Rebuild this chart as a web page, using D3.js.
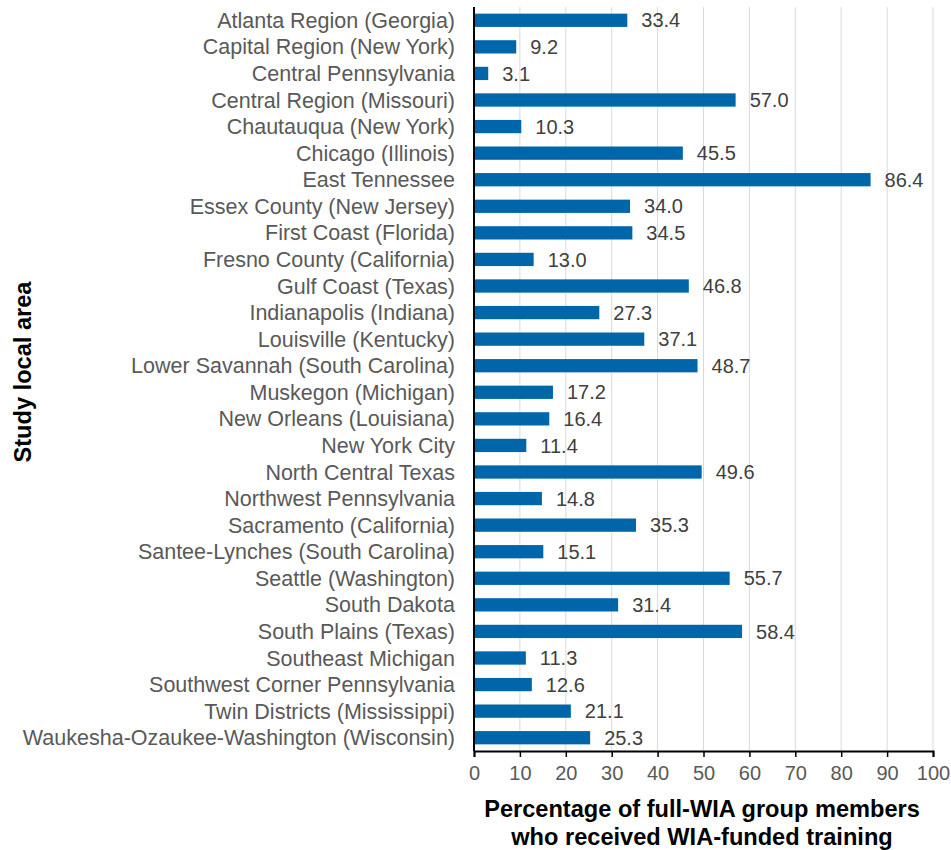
<!DOCTYPE html>
<html><head><meta charset="utf-8">
<script src="https://cdn.jsdelivr.net/npm/d3@7"></script>
<style>body{margin:0;background:#fff;font-family:"Liberation Sans",Arial,sans-serif;}</style>
</head><body><svg id="c" width="951" height="850"></svg>
<script>
const categories = ["Atlanta Region (Georgia)","Capital Region (New York)","Central Pennsylvania","Central Region (Missouri)","Chautauqua (New York)","Chicago (Illinois)","East Tennessee","Essex County (New Jersey)","First Coast (Florida)","Fresno County (California)","Gulf Coast (Texas)","Indianapolis (Indiana)","Louisville (Kentucky)","Lower Savannah (South Carolina)","Muskegon (Michigan)","New Orleans (Louisiana)","New York City","North Central Texas","Northwest Pennsylvania","Sacramento (California)","Santee-Lynches (South Carolina)","Seattle (Washington)","South Dakota","South Plains (Texas)","Southeast Michigan","Southwest Corner Pennsylvania","Twin Districts (Mississippi)","Waukesha-Ozaukee-Washington (Wisconsin)"];
const values = [33.4,9.2,3.1,57.0,10.3,45.5,86.4,34.0,34.5,13.0,46.8,27.3,37.1,48.7,17.2,16.4,11.4,49.6,14.8,35.3,15.1,55.7,31.4,58.4,11.3,12.6,21.1,25.3];
const xTicks = [0,10,20,30,40,50,60,70,80,90,100];
const xTitle = ["Percentage of full-WIA group members","who received WIA-funded training"];
const yTitle = "Study local area";

const svg = d3.select("#c");
const L = 474, R = 933, T = 7, B = 751;
const x = d3.scaleLinear().domain([0,100]).range([L,R]);
const y = d3.scaleBand().domain(categories).range([T,B]).paddingInner(0.5).paddingOuter(0.25);
const FF = "Liberation Sans, Arial, sans-serif";

// gridlines
svg.append("g").selectAll("line").data(xTicks.slice(1)).join("line")
  .attr("x1",d=>x(d)).attr("x2",d=>x(d)).attr("y1",T).attr("y2",B)
  .attr("stroke","#d9d9d9").attr("stroke-width",1);

// bars
svg.append("g").selectAll("rect").data(values).join("rect")
  .attr("x",x(0)).attr("y",(d,i)=>y(categories[i]))
  .attr("width",d=>x(d)-x(0)).attr("height",y.bandwidth())
  .attr("fill","#0066AA");

// value labels
svg.append("g").selectAll("text").data(values).join("text")
  .attr("x",d=>x(d)+14).attr("y",(d,i)=>y(categories[i])+y.bandwidth()/2)
  .attr("dy","0.36em").attr("font-size",20).attr("fill","#404040")
  .text(d=>d.toFixed(1));

// x axis
const xa = svg.append("g").attr("transform",`translate(0,${B})`)
  .call(d3.axisBottom(x).tickValues(xTicks).tickSize(6).tickPadding(9).tickFormat(d3.format("d")));
xa.select(".domain").attr("stroke","#000").attr("stroke-width",2);
xa.selectAll(".tick line").attr("stroke","#000").attr("stroke-width",1.5);
xa.selectAll(".tick text").attr("font-size",20).attr("fill","#595959").attr("font-family",FF);

// y axis
const ya = svg.append("g").attr("transform",`translate(${L},0)`)
  .call(d3.axisLeft(y).tickSize(0).tickPadding(19));
ya.select(".domain").attr("stroke","#000").attr("stroke-width",2).attr("d",`M0,${T}V${B}`);
ya.selectAll(".tick text").attr("font-size",21.5).attr("fill","#595959").attr("font-family",FF).attr("dy","0.35em");

// titles
svg.append("text").attr("text-anchor","middle").attr("font-size",23.6).attr("font-weight","bold")
  .attr("fill","#000").selectAll("tspan").data(xTitle).join("tspan")
  .attr("x",702).attr("y",(d,i)=>817+i*28).text(d=>d);
svg.append("text").attr("transform",`translate(31,372) rotate(-90)`)
  .attr("text-anchor","middle").attr("font-size",23.6).attr("font-weight","bold").attr("fill","#000")
  .text(yTitle);
</script></body></html>
